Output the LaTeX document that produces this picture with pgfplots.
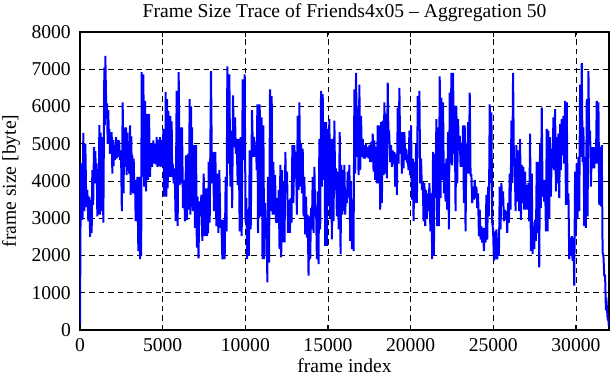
\documentclass[border=0pt]{standalone}
\usepackage{fontspec}
\setmainfont{Liberation Serif}
\usepackage{pgfplots}
\pgfplotsset{compat=1.18}
\begin{document}
\fontsize{19.6bp}{23bp}\selectfont
\begin{tikzpicture}
\path[use as bounding box] (-80bp,-50bp) rectangle (531bp,330bp);
\begin{axis}[
  at={(0,0)}, anchor=south west,
  scale only axis, width=529bp, height=298bp,
  xmin=0, xmax=32000, ymin=0, ymax=8000,
  xtick={0,5000,10000,15000,20000,25000,30000},
  ytick={0,1000,2000,3000,4000,5000,6000,7000,8000},
  scaled ticks=false,
  /pgf/number format/1000 sep={},
  /pgf/number format/assume math mode=true,
  grid=major,
  major grid style={black, line width=0.8bp, dash pattern=on 5.5bp off 4bp},
  axis line style={black, line width=1.4bp},
  tick style={black, line width=1bp},
  tick align=inside, major tick length=5bp,
  xticklabel style={anchor=base, yshift=-21.5bp, inner sep=0pt},
  yticklabel style={anchor=east, inner sep=0pt, xshift=-9bp},
  title={Frame Size Trace of Friends4x05 -- Aggregation 50},
  every axis title/.style={at={(0.5,1)}, anchor=base, yshift=15bp},
  xlabel={frame index},
  every axis x label/.style={at={(0.5,0)}, anchor=base, inner sep=0pt, yshift=-42.5bp},
  ylabel={frame size [byte]},
  every axis y label/.style={at={(0,0.5)}, xshift=-69bp, rotate=90, anchor=center},
]
\addplot[color={rgb,255:red,0;green,0;blue,255}, line width=2bp, line join=miter, mark=none] coordinates {
(0,150) (50,4470) (100,4300) (150,2960) (202,5290) (262,3190) (323,5000) (383,3300) (444,3760) (504,2920)
(565,3580) (615,2500) (666,3500) (706,2600) (746,4290) (797,3360) (847,4910) (888,3940) (928,4800) (968,4000)
(1009,4470) (1049,3050) (1099,4300) (1130,3100) (1170,5500) (1210,3100) (1251,5300) (1301,3200) (1351,5180) (1412,2880)
(1472,7050) (1503,5500) (1533,7360) (1583,6060) (1634,6060) (1674,5000) (1714,5900) (1745,5100) (1775,5400) (1815,4730)
(1856,5300) (1886,4800) (1916,5310) (1957,4200) (1997,5100) (2027,4400) (2057,4960) (2108,4560) (2178,5180) (2219,4600)
(2269,5100) (2320,4650) (2360,5090) (2420,4560) (2481,4820) (2531,3190) (2582,6110) (2632,3670) (2683,5440) (2733,4380)
(2783,5440) (2824,4160) (2864,5300) (2894,4300) (2925,4650) (2975,4200) (3026,5490) (3066,3630) (3106,5200) (3136,3800)
(3167,4690) (3207,3670) (3247,4600) (3288,3800) (3328,4030) (3368,2920) (3409,3900) (3439,3000) (3469,4110) (3530,2120)
(3590,4110) (3631,1900) (3671,3500) (3701,2000) (3731,6920) (3782,4110) (3832,6860) (3883,3850) (3933,6150) (3994,3720)
(4054,5800) (4115,4030) (4175,5800) (4236,4110) (4296,5000) (4357,4380) (4437,5090) (4478,4470) (4538,5000) (4589,4450)
(4639,5180) (4679,4380) (4740,5100) (4790,4400) (4841,5180) (4881,4380) (4942,5100) (4992,4400) (5043,5400) (5083,3580)
(5123,5200) (5153,3700) (5184,6390) (5224,3580) (5264,6200) (5305,3800) (5345,5880) (5406,4110)
(5465,5750) (5505,4110) (5545,5600) (5576,4200) (5606,4470) (5666,3940) (5727,4340) (5787,2920) (5848,6420) (5908,2790)
(5969,6920) (6029,3890) (6090,5440) (6130,3940) (6171,5440) (6231,3270) (6292,4030) (6352,2920) (6413,4690) (6473,2960)
(6534,4730) (6584,3230) (6635,6200) (6675,3100) (6715,6000) (6746,3300) (6776,5440) (6836,3190) (6897,4960) (6957,2740)
(7018,4960) (7068,2210) (7119,3580) (7169,1920) (7220,3450) (7280,3050) (7341,3630) (7401,2390) (7482,4200) (7542,2520)
(7623,3800) (7683,2520) (7724,3700) (7754,2600) (7784,4510) (7845,2880) (7925,6950) (7986,3940) (8046,4780) (8107,3190)
(8188,4780) (8248,2790) (8309,4200) (8369,2610) (8430,4290) (8490,2740) (8551,2960) (8611,1900) (8692,2960) (8752,1900)
(8813,4110) (8863,2650) (8914,7080) (8974,4470) (9035,6860) (9095,3850) (9156,5350) (9206,3270) (9257,6300) (9317,4910)
(9378,5710) (9428,4730) (9479,5130) (9539,3890) (9600,5130) (9660,2650) (9721,5180) (9781,2520) (9842,6730) (9902,4560)
(9963,6860) (10013,2880) (10063,3540) (10114,1900) (10164,3230) (10215,1990) (10265,4820) (10326,2700) (10406,5900) (10467,4650)
(10527,5180) (10588,4650) (10649,4960) (10689,4290)
(10729,6060) (10769,2610) (10809,5800) (10840,3000) (10870,6060) (10930,3050) (10991,5710) (11041,1900) (11092,5490) (11142,1900)
(11193,3410) (11243,2700) (11293,2700) (11334,1280) (11374,4110) (11435,1810) (11495,6460) (11546,3190) (11596,6280) (11646,3100)
(11697,4510) (11747,3100) (11798,4160) (11858,2880) (11919,3540) (11969,2880) (12020,3760) (12070,2170) (12120,4430) (12171,1950)
(12221,4290) (12272,2350) (12322,3980) (12373,2350) (12423,4780) (12473,3670) (12524,4250) (12584,2610) (12645,3500) (12695,2610)
(12746,3540) (12796,2880) (12847,4960) (12907,3410) (12968,4960) (13018,4070) (13068,4780) (13119,3100) (13169,5750) (13220,3760)
(13270,6110) (13321,3850) (13371,5000) (13421,3670) (13472,4870) (13522,3050) (13573,4110) (13623,2570) (13674,3580) (13724,2480)
(13774,3100) (13825,1460) (13875,3050) (13926,1900) (13976,3270) (14026,2700) (14077,4110) (14127,2610) (14178,4380) (14228,3050)
(14279,3320) (14329,1900) (14379,3720) (14430,1770) (14480,5130) (14531,2700) (14581,6420) (14632,3850) (14682,6330) (14733,4030)
(14783,5580) (14833,2260) (14884,5580) (14934,2260) (14985,5400) (15035,3410) (15085,5660) (15136,3010) (15186,5130) (15237,2430)
(15287,5130) (15338,2920) (15388,5620) (15438,3760) (15489,4340) (15539,3050) (15590,4250) (15650,2700) (15711,5310) (15761,2040)
(15812,4430) (15872,3100) (15913,4300) (15953,3200)
(15993,4430) (16043,3100) (16094,3760) (16144,3410) (16194,4250) (16245,3580) (16295,4430) (16346,2390) (16396,3980) (16447,2170)
(16497,3500) (16547,2120) (16598,6460) (16648,4200) (16699,6900) (16749,4650) (16800,5970) (16850,4160) (16900,6590) (16951,4290)
(17001,5750) (17052,4650) (17102,5130) (17153,4600) (17203,4960) (17253,4600) (17304,5000) (17354,4650) (17405,4910) (17455,4600)
(17505,4960) (17556,4510) (17606,5050) (17657,4510) (17707,5270) (17758,4250) (17808,5090) (17858,4030) (17909,4910) (17959,3940)
(18010,5490) (18060,3940) (18111,5490) (18161,3230) (18211,5580) (18262,3410) (18312,5620) (18363,4160) (18413,6110) (18464,4200)
(18514,5800) (18564,4070) (18615,6640) (18665,5000) (18716,5130) (18766,4510) (18817,4960) (18867,4380) (18917,4820) (18968,4470)
(19018,4780) (19069,3850) (19119,4730) (19170,3630) (19220,5970) (19270,4470) (19321,6500) (19371,4730) (19422,5310) (19472,4200)
(19522,5310) (19573,4340) (19623,5310) (19674,4560) (19724,4870) (19775,4560) (19825,4600) (19875,4290) (19926,5350) (19976,4160)
(20027,5490) (20077,3500) (20128,4600) (20178,2920) (20228,4510) (20279,3410) (20329,5000) (20380,3410) (20430,6280) (20481,5350)
(20531,6420) (20581,3940) (20632,4600) (20682,3760) (20733,3980) (20783,2920) (20834,3940) (20884,2790) (20934,3760) (20985,3010)
(21035,3670) (21086,3190) (21136,3940) (21197,2650)
(21256,3670) (21306,1900) (21357,4780) (21407,1990) (21457,4730) (21508,3540) (21558,5660) (21609,2790) (21659,5440) (21710,2790)
(21760,6810) (21810,3540) (21861,6240) (21911,4030) (21962,6110) (22012,3670) (22063,4470) (22113,3450) (22163,4600) (22214,3230)
(22264,5310) (22315,2700) (22365,6370) (22416,4470) (22466,6900) (22516,4420) (22567,6900) (22617,4730) (22668,6020) (22718,3190)
(22768,6020) (22819,3940) (22869,5660) (22920,4820) (22970,5220) (23021,4380) (23071,5000) (23121,4380) (23172,5490) (23222,3410)
(23273,5490) (23323,2650) (23374,5000) (23424,4200) (23474,5580) (23525,4200) (23575,6370) (23626,4160) (23676,4160) (23727,3410)
(23777,3850) (23827,3500) (23878,4030) (23928,3540) (23979,3850) (24029,3270) (24080,3670) (24130,2520) (24180,3230) (24231,2430)
(24281,2790) (24332,2350) (24382,2740) (24433,2120) (24483,2740) (24533,2350) (24584,3630) (24634,2430) (24685,3850) (24735,3050)
(24785,6060) (24836,3940) (24886,5840) (24937,2880) (24987,2700) (25038,1860) (25088,2650) (25138,1900) (25189,2700) (25239,1900)
(25290,2480) (25340,1990) (25391,3850) (25441,2700) (25491,3940) (25542,3410) (25592,3720) (25643,2920) (25693,3230) (25744,2960)
(25794,3190) (25844,2610) (25895,3410) (25945,2880) (25996,4200) (26046,3230) (26097,5620) (26147,3940) (26197,6900) (26248,4470)
(26298,4510) (26349,3190) (26399,4960) (26460,3450)
(26520,4820) (26570,3190) (26621,5130) (26671,2960) (26721,4430) (26772,3410) (26822,4380) (26873,3230) (26923,4250) (26974,3230)
(27024,3890) (27074,3230) (27125,3940) (27175,2920) (27226,5270) (27276,2120) (27327,4200) (27377,2040) (27427,2790) (27478,2170)
(27528,2960) (27579,2390) (27629,4510) (27680,2610) (27730,4510) (27780,1680) (27831,5000) (27881,3270) (27932,5970) (27982,3580)
(28032,4030) (28083,3450) (28133,4030) (28184,2650) (28234,5400) (28285,2650) (28335,5350) (28385,3010) (28436,5180) (28486,3580)
(28537,4870) (28587,4340) (28638,5710) (28688,4290) (28738,5930) (28789,3720) (28839,5180) (28890,3940) (28940,5270) (28991,3540)
(29041,5530) (29091,4290) (29142,5660) (29192,4690) (29243,5750) (29293,4470) (29344,6150) (29394,3360) (29444,6110) (29495,3360)
(29545,3670) (29596,1900) (29646,2480) (29697,1990) (29747,2520) (29797,1860) (29848,2480) (29898,1190) (29949,4250) (29999,2520)
(30049,4470) (30100,3010) (30150,4650) (30201,3190) (30251,6590) (30302,4650) (30352,7170) (30403,4510) (30453,5440) (30503,2790)
(30554,4650) (30604,2740) (30655,6200) (30705,3050) (30755,6950) (30806,5090) (30856,5350) (30907,3850) (30957,4910) (31007,4340)
(31058,4910) (31108,4340) (31159,4910) (31209,4470) (31259,6150) (31310,4470) (31360,6110) (31411,3360) (31461,4910) (31512,3320)
(31562,4960) (31613,2080) (31663,1990) (31713,1460) (31764,1460) (31814,530) (31865,660) (31915,310) (31965,250) (31995,90)
};
\end{axis}
\end{tikzpicture}
\end{document}
